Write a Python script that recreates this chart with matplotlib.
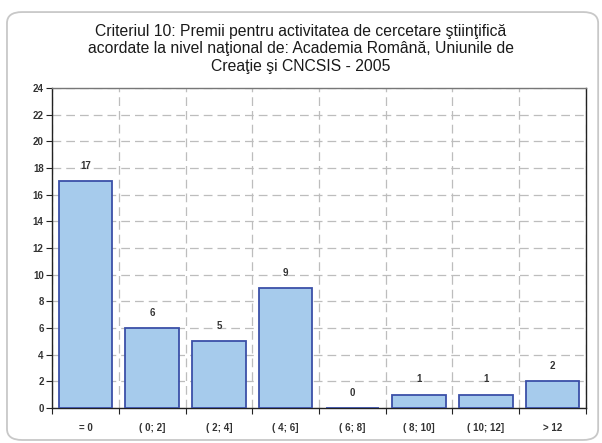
import matplotlib.pyplot as plt
from matplotlib.patches import FancyBboxPatch
import numpy as np

categories = ['= 0', '( 0; 2]', '( 2; 4]', '( 4; 6]', '( 6; 8]', '( 8; 10]', '( 10; 12]', '> 12']
values = [17, 6, 5, 9, 0, 1, 1, 2]
title = ('Criteriul 10: Premii pentru activitatea de cercetare ştiinţifică\n'
         'acordate la nivel naţional de: Academia Română, Uniunile de\n'
         'Creaţie şi CNCSIS - 2005')

plt.rcParams['font.family'] = ['Liberation Sans', 'DejaVu Sans']

fig = plt.figure(figsize=(6.02, 4.43), dpi=100)
# rounded outer frame
frame = FancyBboxPatch((0.0116, 0.0068), 0.982, 0.966, boxstyle='round,pad=0,rounding_size=0.025',
                       transform=fig.transFigure, fc='none', ec='#c8c8c8', lw=1.3, zorder=-1)
fig.patches.append(frame)

ax = fig.add_axes([0.0864, 0.079, 0.887, 0.7223])
x = np.arange(len(categories))
ax.bar(x, values, width=0.8, color='#a6cbec', edgecolor='#3b50a8', linewidth=1.3, zorder=3)
for xi, v in zip(x, values):
    ax.text(xi, v + 1.15, str(v), ha='center', va='center', fontsize=7, fontweight='bold',
            color='#333333', zorder=4)

ax.set_xlim(-0.5, len(categories) - 0.5)
ax.set_ylim(0, 24)
ax.set_yticks(range(0, 25, 2))
ax.set_xticks(np.arange(-0.5, len(categories), 1))
ax.set_xticklabels([])
ax.set_xticks(x, minor=True)
ax.set_xticklabels(categories, minor=True, fontweight='bold')
ax.set_yticklabels([str(v) for v in range(0, 25, 2)], fontweight='bold')
ax.tick_params(axis='x', which='minor', length=0, pad=11, labelsize=7, labelcolor='#333333')
ax.tick_params(axis='x', which='major', length=4, direction='out', color='#222222')
ax.tick_params(axis='y', length=4, direction='out', labelsize=7, pad=2, color='#222222', labelcolor='#333333')

ax.grid(True, which='major', color='#bdbdbd', linestyle=(0, (7, 4)), linewidth=0.9, zorder=0)
for s in ax.spines.values():
    s.set_color('#222222')
    s.set_linewidth(1.0)
ax.spines['top'].set_color('#777777')

fig.text(0.5, 0.946, title, ha='center', va='top', fontsize=11.3, linespacing=1.2, color='#1a1a1a')

fig.savefig('out.png', dpi=100)
